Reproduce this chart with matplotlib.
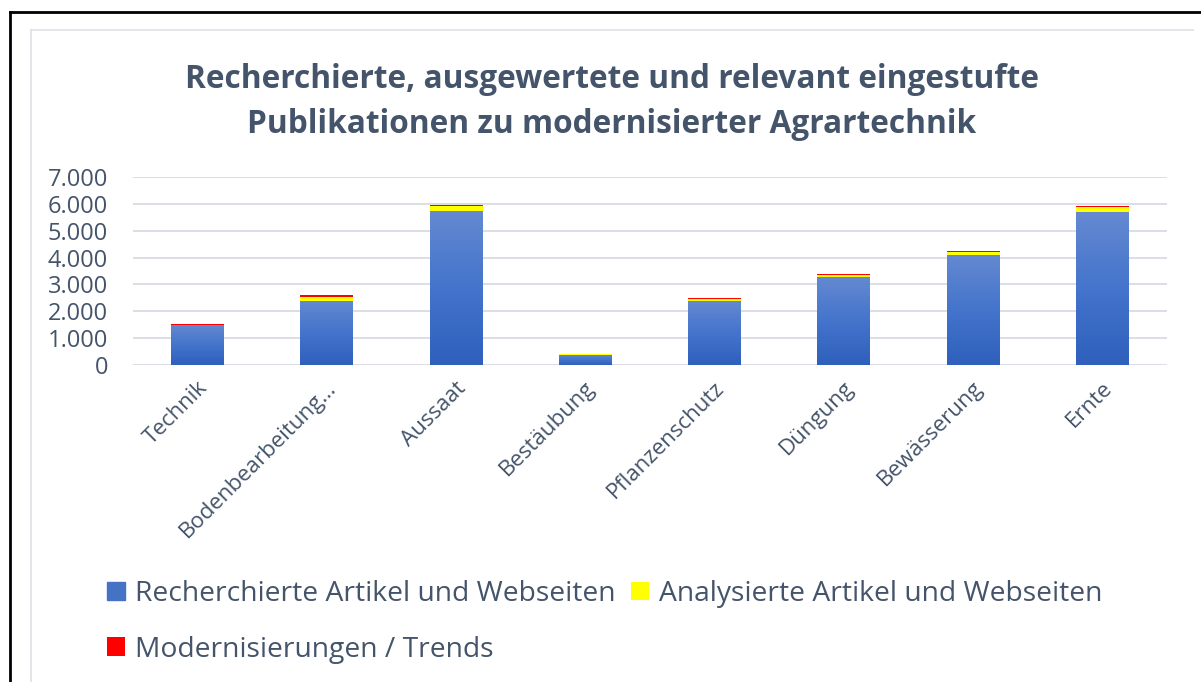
import numpy as np
import matplotlib
matplotlib.use("Agg")
import matplotlib.pyplot as plt
import matplotlib.transforms as mtransforms
from matplotlib.lines import Line2D
from matplotlib.ticker import FuncFormatter

# data
categories = ["Technik", "Bodenbearbeitung…", "Aussaat", "Bestäubung",
              "Pflanzenschutz", "Düngung", "Bewässerung", "Ernte"]
recherchiert = [1500, 2400, 5720, 380, 2370, 3260, 4080, 5690]
analysiert = [5, 150, 200, 40, 100, 75, 110, 190]
modernisiert = [30, 70, 40, 5, 40, 35, 40, 40]
series_names = ["Recherchierte Artikel und Webseiten",
                "Analysierte Artikel und Webseiten",
                "Modernisierungen / Trends"]
title_lines = ["Recherchierte, ausgewertete und relevant eingestufte",
               "Publikationen zu modernisierter Agrartechnik"]

TEXT = "#44546A"
GRID = "#DADEE5"
FONT = "Open Sans"

W, H = 1201, 682
fig = plt.figure(figsize=(W / 100, H / 100), dpi=100)
plt.rcParams["font.family"] = [FONT, "DejaVu Sans"]

# axes placed in pixel coords of the reference
x0, x1, y_top, y_bot = 133, 1167, 177, 365
ax = fig.add_axes([x0 / W, 1 - y_bot / H, (x1 - x0) / W, (y_bot - y_top) / H])

x = np.arange(len(categories))
bw = 0.41
rech = np.array(recherchiert)
ana = np.array(analysiert)
mod = np.array(modernisiert)

b1 = ax.bar(x, rech, bw, color="#4472C4", zorder=2, label=series_names[0])
b2 = ax.bar(x, ana, bw, bottom=rech, color="#FFFF00", zorder=2, label=series_names[1])
b3 = ax.bar(x, mod, bw, bottom=rech + ana, color="#FF0000", zorder=2, label=series_names[2])

# vertical gradient on the blue bars
grad = np.linspace(0, 1, 256).reshape(-1, 1)
cmap = matplotlib.colors.LinearSegmentedColormap.from_list("bl", ["#2E60BC", "#4474CC", "#6489D1"])
for b in b1:
    bx, by, bwid, bh = b.get_x(), b.get_y(), b.get_width(), b.get_height()
    im = ax.imshow(grad, cmap=cmap, aspect="auto", origin="lower",
                   extent=[bx, bx + bwid, by, by + bh], zorder=2.1)
    im.set_clip_path(b)

ax.set_xlim(-0.5, len(categories) - 0.5)
ax.set_ylim(0, 7000)
ax.set_yticks(np.arange(0, 7001, 1000))
ax.yaxis.set_major_formatter(FuncFormatter(lambda v, p: f"{int(v):,}".replace(",", ".")))
ax.grid(axis="y", color=GRID, lw=1.4, zorder=0)
for s in ax.spines.values():
    s.set_visible(False)
ax.tick_params(axis="both", length=0, colors=TEXT, labelsize=17)
ax.tick_params(axis="y", pad=18)
ax.set_xticks(x)
ax.set_xticklabels(categories, rotation=45, ha="right", va="top",
                   rotation_mode="anchor", fontsize=16)
ax.tick_params(axis="x", pad=9)
shift = mtransforms.ScaledTranslation(-1 / 100, 0, fig.dpi_scale_trans)
for lab in ax.get_xticklabels():
    lab.set_transform(lab.get_transform() + shift)

# title
for i, line in enumerate(title_lines):
    fig.text(612 / W, 1 - (88 + 45 * i) / H, line, ha="center", va="baseline",
             fontsize=22.8, fontweight="bold", color=TEXT)

# legend: row 1 -> first two series, row 2 -> third
handles = [b1, b3, b2]
labels = [series_names[0], series_names[2], series_names[1]]
leg = fig.legend(handles, labels, ncol=2, loc="upper left",
                 bbox_to_anchor=(107 / W, 1 - 580 / H), frameon=False,
                 fontsize=20.3, handlelength=0.64, handleheight=0.64,
                 handletextpad=0.36, columnspacing=0.54, labelspacing=0.98,
                 borderpad=0, borderaxespad=0)
for t in leg.get_texts():
    t.set_color(TEXT)
leg.legend_handles[0].set_color("#4472C4")

# outer black frame and inner chart border
def fline(xs, ys, **kw):
    fig.add_artist(Line2D([v / W for v in xs], [1 - v / H for v in ys],
                          transform=fig.transFigure, **kw))

fline([31, 1193], [30, 30], color="#DDE1E8", lw=1.2)
fline([31, 31], [30, 682], color="#DDE1E8", lw=1.2)
fline([10, 1201], [12, 12], color="black", lw=2)
fline([10, 10], [12, 682], color="black", lw=2)

fig.savefig("out.png", dpi=100, facecolor="white")
